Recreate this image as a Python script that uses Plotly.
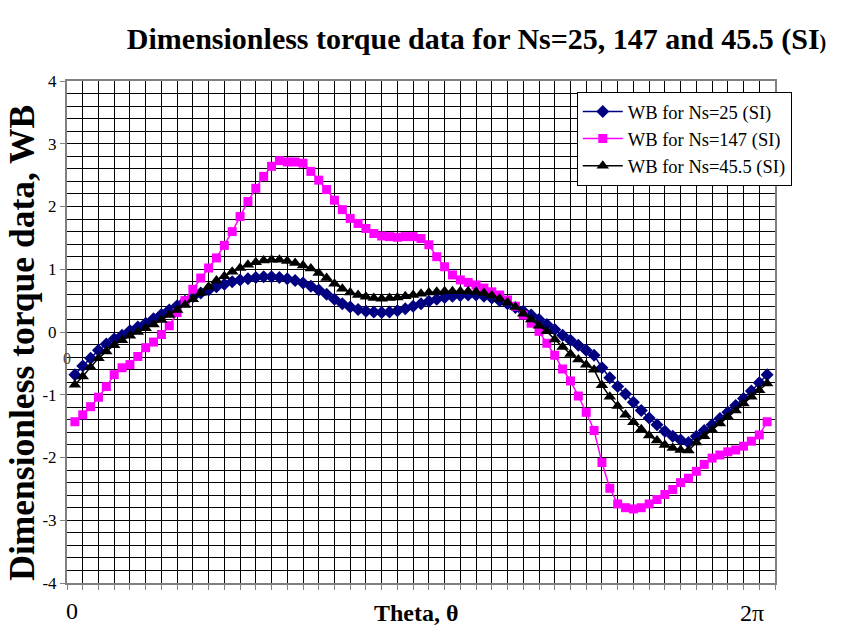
import plotly.graph_objects as go

# point index along theta (0..2*pi spread over 89 samples on a category axis)
theta_idx = list(range(1, 90))

wb_ns25 = [-0.68, -0.54, -0.42, -0.29, -0.19, -0.11, -0.05, 0.02, 0.08, 0.14,
           0.21, 0.28, 0.35, 0.42, 0.49, 0.56, 0.62, 0.67, 0.72, 0.76,
           0.80, 0.83, 0.85, 0.87, 0.88, 0.88, 0.87, 0.85, 0.82, 0.78,
           0.73, 0.67, 0.60, 0.52, 0.45, 0.40, 0.36, 0.33, 0.32, 0.31,
           0.32, 0.34, 0.37, 0.41, 0.45, 0.49, 0.52, 0.55, 0.57, 0.58,
           0.59, 0.59, 0.57, 0.54, 0.50, 0.45, 0.39, 0.33, 0.27, 0.20,
           0.12, 0.04, -0.05, -0.13, -0.21, -0.29, -0.37, -0.57, -0.73, -0.87,
           -0.99, -1.12, -1.25, -1.37, -1.48, -1.58, -1.66, -1.72, -1.76, -1.66,
           -1.57, -1.48, -1.38, -1.28, -1.17, -1.06, -0.94, -0.81, -0.68]

wb_ns147 = [-1.43, -1.32, -1.19, -1.04, -0.87, -0.68, -0.57, -0.52, -0.39, -0.25,
            -0.16, -0.04, 0.10, 0.31, 0.50, 0.68, 0.86, 1.02, 1.18, 1.38,
            1.60, 1.84, 2.08, 2.29, 2.48, 2.64, 2.73, 2.71, 2.71, 2.69,
            2.56, 2.42, 2.27, 2.10, 1.95, 1.81, 1.73, 1.65, 1.57, 1.53,
            1.52, 1.51, 1.52, 1.52, 1.49, 1.39, 1.20, 1.04, 0.91, 0.83,
            0.79, 0.75, 0.70, 0.64, 0.59, 0.51, 0.41, 0.27, 0.14, 0.01,
            -0.18, -0.37, -0.59, -0.78, -1.02, -1.28, -1.57, -2.08, -2.49, -2.74,
            -2.80, -2.82, -2.80, -2.74, -2.67, -2.59, -2.51, -2.40, -2.33, -2.22,
            -2.11, -2.01, -1.96, -1.91, -1.88, -1.82, -1.74, -1.64, -1.43]

wb_ns45 = [-0.84, -0.71, -0.56, -0.42, -0.31, -0.21, -0.13, -0.06, 0.00, 0.06,
           0.12, 0.19, 0.27, 0.35, 0.43, 0.52, 0.62, 0.72, 0.82, 0.89,
           0.96, 1.02, 1.07, 1.11, 1.14, 1.15, 1.15, 1.13, 1.10, 1.06,
           1.01, 0.94, 0.86, 0.77, 0.69, 0.63, 0.59, 0.56, 0.54, 0.53,
           0.54, 0.55, 0.57, 0.59, 0.61, 0.63, 0.64, 0.65, 0.65, 0.65,
           0.65, 0.64, 0.62, 0.58, 0.53, 0.47, 0.40, 0.29, 0.20, 0.10,
           0.01, -0.12, -0.24, -0.35, -0.44, -0.52, -0.60, -0.85, -1.03, -1.18,
           -1.32, -1.44, -1.55, -1.65, -1.73, -1.80, -1.85, -1.88, -1.89, -1.76,
           -1.66, -1.56, -1.46, -1.35, -1.25, -1.14, -1.03, -0.93, -0.82]

y_ticks = [-4, -3, -2, -1, 0, 1, 2, 3, 4]
series_names = ["WB for Ns=25 (SI)", "WB for Ns=147 (SI)", "WB for Ns=45.5 (SI)"]

SERIF = "Liberation Serif, Times New Roman, serif"

fig = go.Figure()
fig.add_trace(go.Scatter(x=theta_idx, y=wb_ns25, name=series_names[0], mode="lines+markers",
                         line=dict(color="#000080", width=1.5),
                         marker=dict(symbol="diamond", size=10, color="#000080")))
fig.add_trace(go.Scatter(x=theta_idx, y=wb_ns147, name=series_names[1], mode="lines+markers",
                         line=dict(color="#FF00FF", width=1.5),
                         marker=dict(symbol="square", size=9, color="#FF00FF")))
fig.add_trace(go.Scatter(x=theta_idx, y=wb_ns45, name=series_names[2], mode="lines+markers",
                         line=dict(color="#000000", width=1.5),
                         marker=dict(symbol="triangle-up", size=11, color="#000000")))

fig.update_layout(
    width=848, height=639, autosize=False,
    margin=dict(l=67, r=73, t=81, b=56),
    paper_bgcolor="white", plot_bgcolor="white",
    font=dict(family=SERIF, color="black"),
    title=dict(text="<b>Dimensionless torque data for Ns=25, 147 and 45.5 (SI<span style='font-size:20px'>)</span></b>",
               x=0.562, xanchor="center", y=0.94, yanchor="middle",
               font=dict(family=SERIF, size=30, color="black")),
    showlegend=True,
    legend=dict(x=0.72, y=0.978, xanchor="left", yanchor="top",
                bgcolor="white", bordercolor="black", borderwidth=1,
                font=dict(family=SERIF, size=18.5, color="black"),
                itemwidth=40, tracegroupgap=0),
    xaxis=dict(range=[0, 90], tick0=0, dtick=2, showticklabels=False,
               showgrid=True, gridcolor="black", gridwidth=1,
               ticks="outside", ticklen=5, tickcolor="#808080",
               showline=True, linecolor="#808080", linewidth=2, mirror=True,
               zeroline=False),
    yaxis=dict(range=[-4, 4], tickvals=y_ticks, ticktext=[str(v) for v in y_ticks],
               showgrid=True, gridcolor="black", gridwidth=1,
               minor=dict(dtick=0.2, showgrid=True, gridcolor="black", gridwidth=1),
               ticks="outside", ticklen=5, tickcolor="#808080",
               tickfont=dict(family=SERIF, size=17, color="black"),
               showline=True, linecolor="#808080", linewidth=2, mirror=True,
               zeroline=False),
)

fig.add_annotation(x=-0.064, y=0.478, xref="paper", yref="paper",
                   text="<b>Dimensionless torque data, WB</b>", textangle=-90, showarrow=False,
                   font=dict(family=SERIF, size=35.5, color="black"), xanchor="center", yanchor="middle")
fig.add_annotation(x=0, y=-0.43, xref="paper", yref="y", text="0", showarrow=False,
                   font=dict(family=SERIF, size=16, color="#444"), xanchor="center", yanchor="middle")
fig.add_annotation(x=0.007, y=-0.055, xref="paper", yref="paper", text="0", showarrow=False,
                   font=dict(family=SERIF, size=24, color="black"), xanchor="center", yanchor="middle")
fig.add_annotation(x=0.493, y=-0.06, xref="paper", yref="paper", text="<b>Theta, θ</b>", showarrow=False,
                   font=dict(family=SERIF, size=24, color="black"), xanchor="center", yanchor="middle")
fig.add_annotation(x=0.967, y=-0.06, xref="paper", yref="paper", text="2π", showarrow=False,
                   font=dict(family=SERIF, size=24, color="black"), xanchor="center", yanchor="middle")

fig.write_html("out.html")
